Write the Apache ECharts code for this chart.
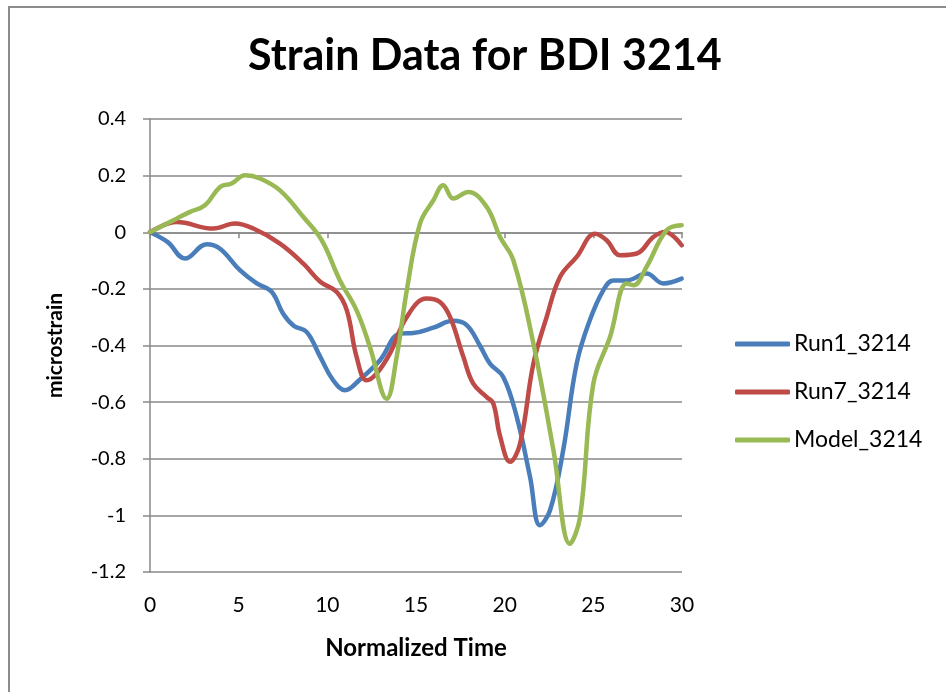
<!DOCTYPE html>
<html>
<head>
<meta charset="utf-8">
<script src="https://cdn.jsdelivr.net/npm/echarts@6/dist/echarts.min.js"></script>
<style>
html,body{margin:0;padding:0;background:#fff;}
#chart{width:946px;height:692px;}
</style>
</head>
<body>
<div id="chart"></div>
<script>
var titleText = 'Strain Data for BDI 3214';
var seriesNames = ['Run1_3214', 'Run7_3214', 'Model_3214'];
var xTicks = [0, 5, 10, 15, 20, 25, 30];
var yTicks = [-1.2, -1, -0.8, -0.6, -0.4, -0.2, 0, 0.2, 0.4];

var run1Time = [0, 1, 1.97, 3.2, 3.95, 5.07, 6.0, 6.86, 7.5, 8.1, 8.83, 9.6, 10.3, 11.0, 11.84, 12.97, 14.1, 14.85, 15.98, 17.1, 17.86, 18.6, 19.17, 19.92, 20.68, 21.43, 21.99, 22.56, 23.3, 24.06, 24.8, 25.56, 26.13, 26.88, 28.0, 28.95, 29.98];
var run1Vals = [0, -0.035, -0.093, -0.042, -0.058, -0.134, -0.18, -0.21, -0.287, -0.33, -0.352, -0.44, -0.52, -0.558, -0.52, -0.452, -0.358, -0.356, -0.337, -0.313, -0.328, -0.40, -0.464, -0.511, -0.652, -0.864, -1.035, -0.982, -0.77, -0.464, -0.311, -0.205, -0.17, -0.17, -0.146, -0.181, -0.164];

var run7Time = [0, 1.5, 3.57, 4.79, 5.83, 7.33, 8.65, 9.6, 10.53, 11.1, 11.65, 12.22, 12.78, 13.53, 14.48, 15.6, 16.35, 16.92, 17.67, 18.23, 18.99, 19.36, 19.74, 20.3, 20.87, 21.62, 22.37, 23.12, 24.06, 25.1, 25.75, 26.5, 27.45, 28.38, 29.04, 29.98];
var run7Vals = [0, 0.036, 0.013, 0.031, 0.013, -0.04, -0.111, -0.175, -0.211, -0.276, -0.44, -0.523, -0.499, -0.428, -0.299, -0.234, -0.246, -0.299, -0.44, -0.535, -0.582, -0.605, -0.72, -0.811, -0.746, -0.464, -0.299, -0.158, -0.087, -0.005, -0.028, -0.081, -0.075, -0.017, 0.001, -0.046];

var modelTime = [0, 1.5, 2.26, 3.1, 3.95, 4.6, 5.36, 6.2, 7.33, 8.65, 9.68, 10.71, 11.65, 12.4, 13.35, 13.91, 14.48, 15.23, 15.98, 16.54, 17.1, 17.95, 18.99, 19.74, 20.49, 21.62, 22.75, 23.68, 24.25, 25.0, 25.94, 26.88, 27.26, 28.0, 29.13, 29.98];
var modelVals = [0, 0.048, 0.072, 0.095, 0.16, 0.172, 0.201, 0.19, 0.148, 0.054, -0.028, -0.17, -0.276, -0.405, -0.588, -0.44, -0.205, 0.031, 0.113, 0.166, 0.119, 0.142, 0.089, -0.017, -0.099, -0.393, -0.77, -1.1, -1.006, -0.535, -0.37, -0.181, -0.187, -0.122, 0.007, 0.025];

var colors = ['#4A7EBB', '#BE4B48', '#98B954'];
var FONT = 'Lato';

function pairs(t, v) { return t.map(function (x, i) { return [x, v[i]]; }); }
var seriesData = [pairs(run1Time, run1Vals), pairs(run7Time, run7Vals), pairs(modelTime, modelVals)];

var gridColor = '#898989';
var chart = echarts.init(document.getElementById('chart'), null, {renderer: 'canvas'});
chart.setOption({
  animation: false,
  backgroundColor: '#fff',
  title: {
    text: titleText, left: 248, top: 35, padding: 0,
    textStyle: {fontFamily: FONT, fontSize: 43, fontWeight: 'bold', color: '#000'}
  },
  graphic: [{
    type: 'polyline', silent: true,
    shape: {points: [[9, 700], [9, 7], [950, 7]]},
    style: {stroke: '#8c8c8c', lineWidth: 2, fill: null}
  }],
  legend: {
    orient: 'vertical', left: 730, top: 327, itemGap: 24,
    itemWidth: 55, itemHeight: 5, icon: 'roundRect',
    textStyle: {fontFamily: FONT, fontSize: 23, color: '#000', lineHeight: 24, padding: [0, 0, 0, -1]},
    data: seriesNames
  },
  grid: {left: 150, right: 264, top: 119, bottom: 120},
  xAxis: [{
    type: 'value', min: xTicks[0], max: xTicks[xTicks.length - 1], interval: 5,
    position: 'bottom',
    name: 'Normalized Time', nameLocation: 'middle', nameGap: 64,
    nameTextStyle: {fontFamily: FONT, fontSize: 24, fontWeight: 'bold', color: '#000'},
    axisLine: {show: false, onZero: false}, axisTick: {show: false}, splitLine: {show: false},
    axisLabel: {fontFamily: FONT, fontSize: 21, color: '#000', margin: 23}
  }, {
    type: 'value', min: xTicks[0], max: xTicks[xTicks.length - 1], interval: 5,
    position: 'top',
    axisLine: {show: true, onZero: true, lineStyle: {color: gridColor, width: 1.5}},
    axisTick: {show: true, inside: true, length: 6, lineStyle: {color: gridColor, width: 1.5}},
    axisLabel: {show: false}, splitLine: {show: false}
  }],
  yAxis: {
    type: 'value', min: yTicks[0], max: yTicks[yTicks.length - 1], interval: 0.2,
    name: 'microstrain', nameLocation: 'middle', nameGap: 84, nameRotate: 90,
    nameTextStyle: {fontFamily: FONT, fontSize: 21, fontWeight: 'bold', color: '#000'},
    axisLine: {show: true, onZero: false, lineStyle: {color: gridColor, width: 1.5}},
    axisTick: {show: true, length: 7, lineStyle: {color: gridColor, width: 1.5}},
    splitLine: {show: true, lineStyle: {color: gridColor, width: 1.5}},
    axisLabel: {fontFamily: FONT, fontSize: 20, color: '#000', margin: 24,
      formatter: function (v) { return String(Math.round(v * 10) / 10); }}
  },
  series: seriesData.map(function (d, i) {
    return {
      name: seriesNames[i], type: 'line', data: d, xAxisIndex: 0,
      smooth: 0.4, showSymbol: false, symbol: 'none',
      lineStyle: {color: colors[i], width: 4.5, cap: 'round', join: 'round'},
      itemStyle: {color: colors[i]}
    };
  })
});
</script>
</body>
</html>
